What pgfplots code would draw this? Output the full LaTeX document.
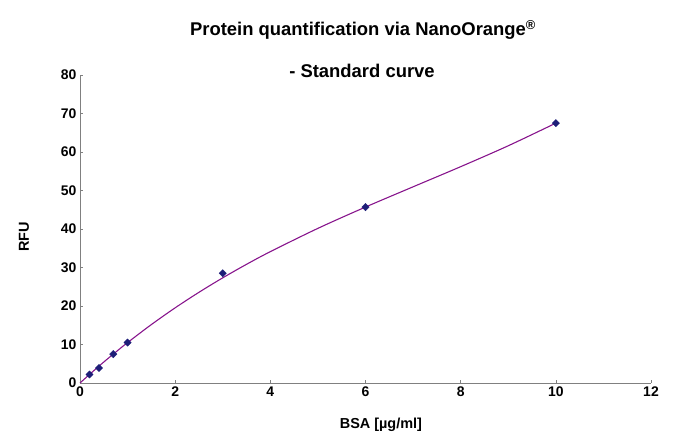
\documentclass[border=0pt]{standalone}
\usepackage{fontspec}
\setmainfont{Liberation Sans}
\usepackage{pgfplots}
\pgfplotsset{compat=1.18}

\definecolor{axisgray}{RGB}{128,128,128}
\definecolor{navymark}{RGB}{30,30,120}
\definecolor{trendpurple}{RGB}{135,20,140}

\begin{document}
\begin{tikzpicture}
\useasboundingbox (0,0) rectangle (700bp,446bp);

\node[font=\bfseries\fontsize{18.5}{20}\selectfont] at (363bp,416bp) {Protein quantification via NanoOrange\textsuperscript{®}};
\node[font=\bfseries\fontsize{18.5}{20}\selectfont] at (362bp,375bp) {- Standard curve};

\begin{axis}[
at={(80bp,63bp)}, anchor=south west,
scale only axis,
width=571bp, height=308bp,
xmin=0, xmax=12,
ymin=0, ymax=80,
xtick={0,2,...,12},
ytick={0,10,...,80},
axis lines=left,
axis line style={axisgray, line width=1pt, -},
tick style={axisgray, line width=0.6pt},
major tick length=3bp,
tick align=inside,
tick label style={font=\bfseries\fontsize{14}{16}\selectfont},
/pgf/number format/assume math mode=true,
xlabel={BSA [µg/ml]},
ylabel={RFU},
label style={font=\bfseries\fontsize{14.5}{16}\selectfont},
xlabel style={at={(axis description cs:0.527,-0.136)}, anchor=center},
ylabel style={at={(axis description cs:-0.098,0.474)}, anchor=center},
clip=false,
]
% polynomial trend line through origin
\addplot [trendpurple, line width=1.1pt, smooth]
table {%
0 0
0.25 2.77
0.5 5.45
0.75 8.02
1 10.50
1.5 15.18
2 19.53
2.5 23.56
3 27.32
3.5 30.83
4 34.12
5 40.17
6 45.70
7 50.96
8 56.19
9 61.62
10 67.50
};
\addplot [only marks, mark=square*, mark size=2.6pt, navymark, mark options={fill=navymark, draw=navymark, rotate=45}]
table {%
0.2 2.2
0.4 3.9
0.7 7.5
1 10.5
3 28.5
6 45.7
10 67.5
};
\end{axis}
\end{tikzpicture}
\end{document}
